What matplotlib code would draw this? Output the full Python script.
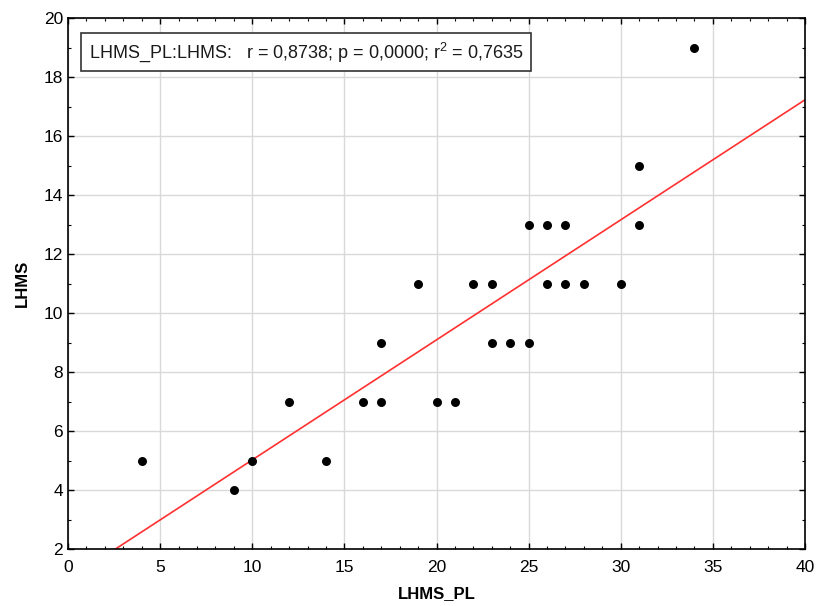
import numpy as np
import matplotlib
matplotlib.use("Agg")
import matplotlib.pyplot as plt
from matplotlib.ticker import MultipleLocator

lhms_pl = [4, 9, 10, 12, 14, 16, 17, 17, 19, 20, 21, 22, 23, 23, 24, 25, 25, 26, 26, 27, 27, 28, 30, 31, 31, 34]
lhms =    [5, 4, 5, 7, 5, 7, 7, 9, 11, 7, 7, 11, 11, 9, 9, 9, 13, 13, 11, 13, 11, 11, 11, 15, 13, 19]
stats_text = r"LHMS_PL:LHMS:   r = 0,8738; p = 0,0000; r$^2$ = 0,7635"

plt.rcParams['font.family'] = ['Liberation Sans', 'DejaVu Sans']
plt.rcParams['mathtext.fontset'] = 'custom'
plt.rcParams['mathtext.rm'] = 'Liberation Sans'

fig = plt.figure(figsize=(8.16, 6.06), dpi=100)
ax = fig.add_axes([68/816, 1-549/606, (805-68)/816, (549-18)/606])

x = np.array(lhms_pl, dtype=float)
y = np.array(lhms, dtype=float)
slope, intercept = np.polyfit(x, y, 1)
xl = np.array([0, 40])
ax.plot(xl, slope*xl + intercept, color='#ff3030', lw=1.2, zorder=2)
ax.scatter(x, y, s=42, color='black', zorder=3, linewidths=0)

ax.set_xlim(0, 40)
ax.set_ylim(2, 20)
ax.xaxis.set_major_locator(MultipleLocator(5))
ax.xaxis.set_minor_locator(MultipleLocator(1))
ax.yaxis.set_major_locator(MultipleLocator(2))
ax.yaxis.set_minor_locator(MultipleLocator(1))
ax.grid(True, which='major', color='#d9d9d9', lw=1)
ax.set_axisbelow(True)
ax.tick_params(which='both', direction='in', top=True, right=True, labelsize=12.5, colors='black')
ax.tick_params(which='major', length=4, width=1)
ax.tick_params(which='minor', length=2, width=0.8)
ax.tick_params(axis='x', pad=8)
for s in ax.spines.values():
    s.set_linewidth(1.2)

ax.set_xlabel("LHMS_PL", fontsize=12, fontweight='bold', labelpad=8)
ax.set_ylabel("LHMS", fontsize=12, fontweight='bold', labelpad=10)

ax.text(0.028, 0.936, stats_text, transform=ax.transAxes, fontsize=13, va='center', ha='left',
        color='#1a1a1a',
        bbox=dict(boxstyle='square,pad=0.4', facecolor='white', edgecolor='#333333', lw=1.2))

fig.savefig("out.png", dpi=100)
